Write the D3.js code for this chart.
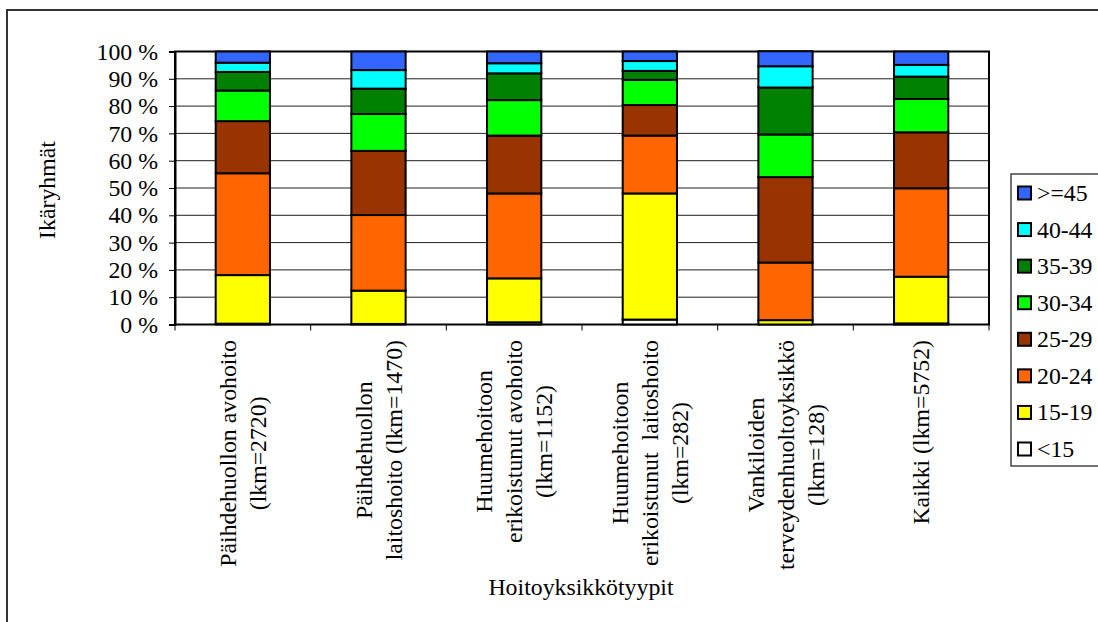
<!DOCTYPE html>
<html>
<head>
<meta charset="utf-8">
<script src="https://cdn.jsdelivr.net/npm/d3@7"></script>
<style>
  html, body { margin: 0; padding: 0; background: #fff; }
  svg { display: block; }
  svg text { font-family: "Liberation Serif", "DejaVu Serif", "Times New Roman", serif !important; }
</style>
</head>
<body>
<svg id="chart" width="1098" height="622"></svg>
<script>
// Care unit types with their multi-line axis labels
const categories = [
  "Päihdehuollon avohoito (lkm=2720)",
  "Päihdehuollon laitoshoito (lkm=1470)",
  "Huumehoitoon erikoistunut avohoito (lkm=1152)",
  "Huumehoitoon erikoistunut laitoshoito (lkm=282)",
  "Vankiloiden terveydenhuoltoyksikkö (lkm=128)",
  "Kaikki (lkm=5752)"
];
const categoryLines = [
  ["Päihdehuollon avohoito", "(lkm=2720)"],
  ["Päihdehuollon", "laitoshoito (lkm=1470)"],
  ["Huumehoitoon", "erikoistunut avohoito", "(lkm=1152)"],
  ["Huumehoitoon", "erikoistunut  laitoshoito", "(lkm=282)"],
  ["Vankiloiden", "terveydenhuoltoyksikkö", "(lkm=128)"],
  ["Kaikki (lkm=5752)"]
];

// Age groups, bottom of stack first
const ageGroups = ["<15", "15-19", "20-24", "25-29", "30-34", "35-39", "40-44", ">=45"];
const ageColors = ["#FFFFFF", "#FFFF00", "#FF6600", "#993300", "#00FF00", "#008000", "#00FFFF", "#3366FF"];

// Share (%) of each age group per care unit type
const lt15   = [0.3, 0.2, 0.8, 1.8, 0.0, 0.4];
const a15_19 = [17.8, 12.2, 16.1, 46.2, 1.6, 17.1];
const a20_24 = [37.3, 27.7, 31.1, 21.2, 21.1, 32.4];
const a25_29 = [19.1, 23.5, 21.2, 11.2, 31.3, 20.5];
const a30_34 = [11.2, 13.5, 13.0, 9.2, 15.6, 12.2];
const a35_39 = [6.8, 9.3, 9.8, 3.3, 17.2, 8.2];
const a40_44 = [3.4, 6.8, 3.7, 3.6, 7.8, 4.3];
const ge45   = [4.1, 6.8, 4.3, 3.5, 5.5, 4.9];

const yTicks = [0, 10, 20, 30, 40, 50, 60, 70, 80, 90, 100];
const yTitle = "Ikäryhmät";
const xTitle = "Hoitoyksikkötyypit";

const seriesValues = [lt15, a15_19, a20_24, a25_29, a30_34, a35_39, a40_44, ge45];
const table = categories.map((c, i) => {
  const row = { category: c };
  ageGroups.forEach((g, j) => { row[g] = seriesValues[j][i]; });
  return row;
});

const FONT = "Liberation Serif, DejaVu Serif, Times New Roman, serif";
const svg = d3.select("#chart").attr("font-family", FONT);
const fontSize = 23.8;
const plot = { left: 175, right: 989, top: 51.5, bottom: 324.5 };

// Outer frame
svg.append("rect")
  .attr("x", 7).attr("y", 10).attr("width", 1200).attr("height", 700)
  .attr("fill", "#fff").attr("stroke", "#333").attr("stroke-width", 2);

const x = d3.scaleBand().domain(categories).range([plot.left, plot.right]).paddingInner(0).paddingOuter(0);
const y = d3.scaleLinear().domain([0, 100]).range([plot.bottom, plot.top]);

// Grid lines
svg.append("g").selectAll("line").data(yTicks.slice(1, -1)).join("line")
  .attr("x1", plot.left).attr("x2", plot.right)
  .attr("y1", d => y(d)).attr("y2", d => y(d))
  .attr("stroke", "#222").attr("stroke-width", 1);

// Plot border
svg.append("rect")
  .attr("x", plot.left).attr("y", plot.top)
  .attr("width", plot.right - plot.left).attr("height", plot.bottom - plot.top)
  .attr("fill", "none").attr("stroke", "#000").attr("stroke-width", 2);

// Stacked bars
const stack = d3.stack().keys(ageGroups)(table);
const barW = x.bandwidth() * 0.4;
svg.append("g").selectAll("g").data(stack).join("g")
  .attr("fill", (d, i) => ageColors[i])
  .selectAll("rect").data(d => d).join("rect")
    .attr("x", d => x(d.data.category) + (x.bandwidth() - barW) / 2)
    .attr("width", barW)
    .attr("y", d => y(d[1]))
    .attr("height", d => y(d[0]) - y(d[1]))
    .attr("stroke", "#000").attr("stroke-width", 2);

// Y axis
const yAxis = d3.axisLeft(y).tickValues(yTicks).tickFormat(d => d + " %").tickSize(6).tickPadding(11);
const yg = svg.append("g").attr("transform", `translate(${plot.left},0)`).call(yAxis)
  .attr("font-family", FONT).attr("font-size", fontSize);
yg.select(".domain").attr("stroke", "#000").attr("stroke-width", 2);
yg.selectAll(".tick line").attr("stroke", "#000");
yg.selectAll(".tick text").attr("fill", "#000");

// X axis: ticks on category boundaries
const bounds = categories.map(c => x(c)).concat([plot.right]);
svg.append("g").selectAll("line").data(bounds).join("line")
  .attr("x1", d => d).attr("x2", d => d)
  .attr("y1", plot.bottom).attr("y2", plot.bottom + 6)
  .attr("stroke", "#000").attr("stroke-width", 1);

// Rotated category labels, lines centred on one another
const lineGap = 30;
const labelTop = 340;
const lg = svg.append("g").attr("font-size", fontSize).attr("fill", "#000");
categoryLines.forEach((lines, i) => {
  const cx = x(categories[i]) + x.bandwidth() / 2;
  const texts = lines.map((ln, k) => {
    const lx = cx + (k - (lines.length - 1) / 2) * lineGap;
    return lg.append("text")
      .attr("text-anchor", "middle")
      .attr("dominant-baseline", "central")
      .style("white-space", "pre")
      .attr("data-x", lx)
      .text(ln);
  });
  const maxLen = d3.max(texts, t => t.node().getComputedTextLength());
  const cy = labelTop + maxLen / 2;
  texts.forEach(t => {
    const lx = +t.attr("data-x");
    t.attr("transform", `translate(${lx},${cy}) rotate(-90)`);
  });
});

// Axis titles
svg.append("text")
  .attr("transform", "translate(47,190) rotate(-90)")
  .attr("text-anchor", "middle").attr("dominant-baseline", "central")
  .attr("font-size", fontSize).text(yTitle);
svg.append("text")
  .attr("x", 581).attr("y", 595)
  .attr("text-anchor", "middle")
  .attr("font-size", fontSize).text(xTitle);

// Legend, top entry is the oldest group
const legend = svg.append("g");
legend.append("rect")
  .attr("x", 1011).attr("y", 174).attr("width", 120).attr("height", 292)
  .attr("fill", "#fff").attr("stroke", "#444").attr("stroke-width", 1.5);
const legendOrder = ageGroups.map((g, i) => ({ g, c: ageColors[i] })).reverse();
const ly = d3.scalePoint().domain(legendOrder.map(d => d.g)).range([193, 449]);
const items = legend.selectAll("g").data(legendOrder).join("g")
  .attr("transform", d => `translate(1018,${ly(d.g)})`);
items.append("rect")
  .attr("x", 0).attr("y", -6.5).attr("width", 13).attr("height", 13)
  .attr("fill", d => d.c).attr("stroke", "#000").attr("stroke-width", 2);
items.append("text")
  .attr("x", 19).attr("y", 0).attr("dominant-baseline", "central")
  .attr("font-size", fontSize).text(d => d.g);
</script>
</body>
</html>
